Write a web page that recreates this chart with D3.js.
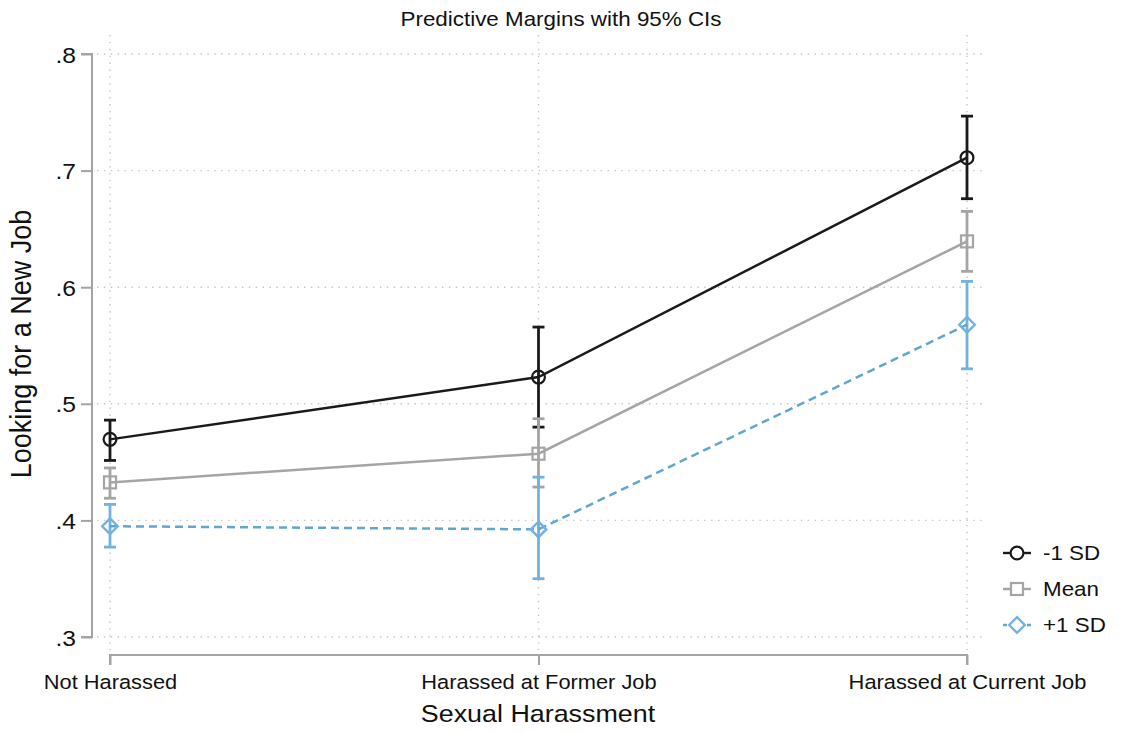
<!DOCTYPE html>
<html>
<head>
<meta charset="utf-8">
<script src="https://cdn.jsdelivr.net/npm/d3@7"></script>
<style>
  html, body { margin: 0; padding: 0; background: #fff; }
  svg { display: block; font-family: "Liberation Sans", Arial, Helvetica, sans-serif; }
</style>
</head>
<body>
<svg id="chart" width="1123" height="733"></svg>
<script>
// Predictive margins of "Looking for a New Job" by harassment status,
// for three levels of the moderator (-1 SD, mean, +1 SD), with 95% CIs.
const categories = ["Not Harassed", "Harassed at Former Job", "Harassed at Current Job"];
const seriesNames = ["-1 SD", "Mean", "+1 SD"];

const minusSD   = [0.4695, 0.5229, 0.7111];
const minusSDLo = [0.4514, 0.4800, 0.6759];
const minusSDHi = [0.4860, 0.5658, 0.7467];

const meanVals  = [0.4326, 0.4572, 0.6393];
const meanLo    = [0.4190, 0.4286, 0.6136];
const meanHi    = [0.4450, 0.4872, 0.6650];

const plusSD    = [0.3950, 0.3923, 0.5678];
const plusSDLo  = [0.3771, 0.3500, 0.5300];
const plusSDHi  = [0.4137, 0.4371, 0.6050];

const yTicks = [0.3, 0.4, 0.5, 0.6, 0.7, 0.8];
const yTickLabels = [".3", ".4", ".5", ".6", ".7", ".8"];

const titleText = "Predictive Margins with 95% CIs";
const xTitle = "Sexual Harassment";
const yTitle = "Looking for a New Job";

// Text is slightly wide relative to its height in this style.
const SX = 1.12;

const svg = d3.select("#chart");

const x = d3.scalePoint().domain(categories).range([110, 967]);
const y = d3.scaleLinear().domain([0.3, 0.8]).range([637, 54]);

const gridColor = "#c4c4c4";
const axisColor = "#a3a3a3";

// Dotted grid
const grid = svg.append("g");
grid.selectAll("line.h").data(yTicks).join("line")
  .attr("x1", 97).attr("x2", 984)
  .attr("y1", d => y(d)).attr("y2", d => y(d))
  .attr("stroke", gridColor).attr("stroke-width", 1.4)
  .attr("stroke-dasharray", "1.4,5.5");
grid.selectAll("line.v").data(categories).join("line")
  .attr("x1", d => x(d)).attr("x2", d => x(d))
  .attr("y1", 35).attr("y2", 650)
  .attr("stroke", gridColor).attr("stroke-width", 1.4)
  .attr("stroke-dasharray", "1.4,5.5");

// Y axis
const yAxis = svg.append("g").attr("transform", "translate(92,0)")
  .call(d3.axisLeft(y).tickValues(yTicks).tickSize(11).tickPadding(0)
    .tickFormat((d, i) => yTickLabels[i]));
yAxis.select(".domain").attr("stroke", axisColor).attr("stroke-width", 2)
  .attr("d", `M-11,${y(0.8)}H0V${y(0.3)}H-11`);
yAxis.selectAll(".tick line").attr("stroke", axisColor).attr("stroke-width", 2);
yAxis.selectAll(".tick text")
  .attr("x", null).attr("dy", null)
  .attr("text-anchor", "end")
  .attr("font-size", 22).attr("fill", "#111")
  .attr("transform", `translate(-16,8) scale(${SX},1)`);

// X axis
const xAxis = svg.append("g").attr("transform", "translate(0,655)")
  .call(d3.axisBottom(x).tickSize(10).tickPadding(0));
xAxis.select(".domain").attr("stroke", axisColor).attr("stroke-width", 2)
  .attr("d", `M${x(categories[0])},10V0H${x(categories[2])}V10`);
xAxis.selectAll(".tick line").attr("stroke", axisColor).attr("stroke-width", 2);
xAxis.selectAll(".tick text")
  .attr("y", null).attr("dy", null)
  .attr("text-anchor", "middle")
  .attr("font-size", 19.5).attr("fill", "#111")
  .attr("transform", `translate(0,34) scale(${SX},1)`);

// Titles
svg.append("text").text(titleText)
  .attr("transform", `translate(561,26) scale(${SX},1)`)
  .attr("text-anchor", "middle").attr("font-size", 20).attr("fill", "#111");
svg.append("text").text(xTitle)
  .attr("transform", `translate(538,722) scale(${SX},1)`)
  .attr("text-anchor", "middle").attr("font-size", 24).attr("fill", "#111");
svg.append("text").text(yTitle)
  .attr("transform", `translate(31,344) scale(${SX},1) rotate(-90)`)
  .attr("text-anchor", "middle").attr("font-size", 27).attr("fill", "#111");

// Series definitions
const series = [
  { name: seriesNames[0], vals: minusSD, lo: minusSDLo, hi: minusSDHi,
    color: "#1a1a1a", ciColor: "#1a1a1a", dash: null, marker: "circle" },
  { name: seriesNames[1], vals: meanVals, lo: meanLo, hi: meanHi,
    color: "#a5a5a5", ciColor: "#a5a5a5", dash: null, marker: "square" },
  { name: seriesNames[2], vals: plusSD, lo: plusSDLo, hi: plusSDHi,
    color: "#5fa6d2", ciColor: "#72b2df", dash: "8,5", marker: "diamond" }
];

const capHalf = 6;

function drawMarker(g, type, cx, cy, color) {
  if (type === "circle") {
    g.append("circle").attr("cx", cx).attr("cy", cy).attr("r", 6.4)
      .attr("fill", "none").attr("stroke", color).attr("stroke-width", 2.2);
  } else if (type === "square") {
    g.append("rect").attr("x", cx - 6).attr("y", cy - 6)
      .attr("width", 12).attr("height", 12)
      .attr("fill", "none").attr("stroke", color).attr("stroke-width", 2.2);
  } else {
    const r = 7.8;
    g.append("path")
      .attr("d", `M${cx},${cy - r}L${cx + r},${cy}L${cx},${cy + r}L${cx - r},${cy}Z`)
      .attr("fill", "none").attr("stroke", color).attr("stroke-width", 2.4);
  }
}

// Confidence intervals
const ciG = svg.append("g");
series.forEach(s => {
  categories.forEach((c, i) => {
    const g = ciG.append("g").attr("stroke", s.ciColor).attr("stroke-width", 2.8);
    g.append("line").attr("x1", x(c)).attr("x2", x(c))
      .attr("y1", y(s.lo[i])).attr("y2", y(s.hi[i]));
    g.append("line").attr("x1", x(c) - capHalf).attr("x2", x(c) + capHalf)
      .attr("y1", y(s.lo[i])).attr("y2", y(s.lo[i]));
    g.append("line").attr("x1", x(c) - capHalf).attr("x2", x(c) + capHalf)
      .attr("y1", y(s.hi[i])).attr("y2", y(s.hi[i]));
  });
});

// Lines and markers
const line = d3.line().x((d, i) => x(categories[i])).y(d => y(d));
series.forEach(s => {
  svg.append("path").datum(s.vals)
    .attr("d", line).attr("fill", "none")
    .attr("stroke", s.color).attr("stroke-width", 2.5)
    .attr("stroke-dasharray", s.dash);
  const mg = svg.append("g");
  s.vals.forEach((v, i) => drawMarker(mg, s.marker, x(categories[i]), y(v), s.ciColor));
});

// Legend
const legend = svg.append("g").attr("transform", "translate(1003,553)");
series.forEach((s, i) => {
  const row = legend.append("g").attr("transform", `translate(0,${i * 36})`);
  row.append("line").attr("x1", 0).attr("x2", 28).attr("y1", 0).attr("y2", 0)
    .attr("stroke", s.color).attr("stroke-width", 2.4)
    .attr("stroke-dasharray", s.dash ? "4,4" : null);
  const mg = row.append("g");
  drawMarker(mg, s.marker, 14, 0, s.ciColor);
  row.select("circle, rect, path").attr("fill", "#fff");
  row.append("text").text(s.name)
    .attr("transform", `translate(40,7) scale(${SX},1)`)
    .attr("font-size", 20).attr("fill", "#111");
});
</script>
</body>
</html>
